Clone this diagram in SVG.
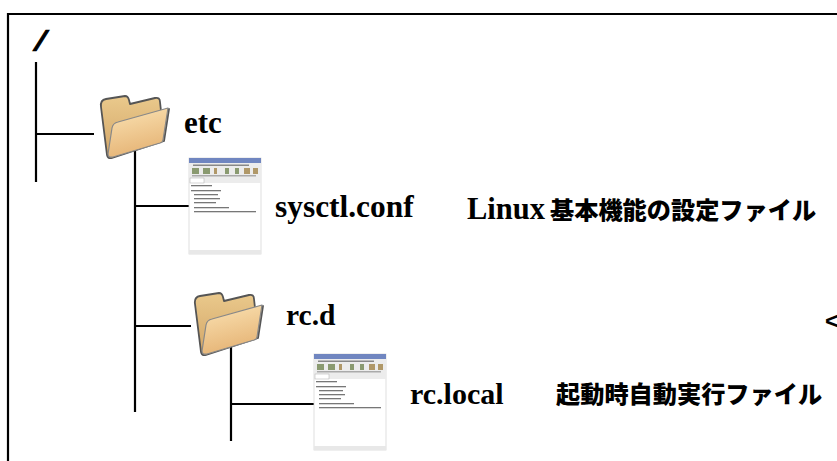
<svg xmlns="http://www.w3.org/2000/svg" xmlns:xlink="http://www.w3.org/1999/xlink" width="837" height="461" viewBox="0 0 837 461">
<style>
.l{stroke:#000;stroke-width:2.2;fill:none}
text{font-family:"Liberation Serif","Noto Sans CJK JP",serif;font-weight:bold;fill:#000}
.t{font-size:30.5px}
.c{font-size:24.2px;font-family:"Noto Sans CJK JP",sans-serif;font-weight:900}
</style>
<defs>
<filter id="soft" x="-5%" y="-5%" width="110%" height="110%"><feGaussianBlur stdDeviation="0.45"/></filter>
<linearGradient id="fb" x1="0" y1="0" x2="0" y2="1"><stop offset="0" stop-color="#eac98c"/><stop offset="1" stop-color="#d2a566"/></linearGradient>
<linearGradient id="ff" x1="0" y1="0" x2="0.3" y2="1"><stop offset="0" stop-color="#fbe3b4"/><stop offset="1" stop-color="#e6b577"/></linearGradient>
<g id="folder">
<path d="M1 10 Q0 3 6 2 L25 -1 Q28 -1 29 3 L30 7 L55 1 Q60 0 60 5 L61 14 L69 12 L64 44 L12 61 Q8 62 7 58 Z" fill="url(#fb)" stroke="#555" stroke-width="1.8" stroke-linejoin="round"/>
<path d="M12 31 Q13 26 18 25 L68 11 L63 43 Q63 45 60 46 L13 60 Q8 61 8 57 Z" fill="url(#ff)" stroke="#888" stroke-width="1.2" stroke-linejoin="round"/>
</g>
<g id="win">
<rect x="0" y="0" width="72" height="96" fill="#fff" stroke="#d8d8d8" stroke-width="0.8"/>
<rect x="0" y="0" width="72" height="5" fill="#6f86c0"/>
<rect x="0" y="5" width="72" height="20" fill="#ececec"/>
<path d="M4 6.500h56v1.500h-56z" fill="#888"/>
<path d="M3 10h7v6h-7zM14 10h7v6h-7zM36 10h4v6h-4zM46 10h4v6h-4z" fill="#8a9a70"/>
<path d="M25 10h3v6h-3zM55 10h6v6h-6zM64 10h5v6h-5z" fill="#b09868"/>
<rect x="3" y="17" width="64" height="1.500" fill="#aaa"/>
<rect x="1" y="20" width="14" height="5" fill="#fff" stroke="#aaa" stroke-width="0.5"/>
<g fill="#777">
<rect x="2" y="27" width="21" height="1.300"/><rect x="2" y="32" width="30" height="1.300"/>
<rect x="5" y="36" width="24" height="1.300"/><rect x="5" y="40" width="26" height="1.300"/>
<rect x="5" y="44" width="22" height="1.300"/><rect x="5" y="49" width="35" height="1.300"/>
<rect x="5" y="53" width="62" height="1.300"/>
</g>
<rect x="0" y="92" width="72" height="4" fill="#e8e8e8"/>
</g>
</defs>
<rect width="837" height="461" fill="#fff"/>
<path d="M8 461V14H837" fill="none" stroke="#000" stroke-width="2.2"/>
<g id="connectors">
<path class="l" d="M36 62V182M36 134H94M135 148V412M135 206H189M135 326H191M231 345V441M231 404H314"/>
</g>
<g id="root"><text transform="translate(33 50) skewX(-24)" style="font-family:'Liberation Sans',sans-serif;font-size:27px" stroke="#000" stroke-width="1.2">/</text></g>
<g id="etc"><use xlink:href="#folder" href="#folder" x="100" y="97" filter="url(#soft)"/><text class="t" x="184" y="133" style="font-size:31px">etc</text></g>
<g id="sysctl"><use xlink:href="#win" href="#win" x="189" y="158" filter="url(#soft)"/><text class="t" x="275" y="217" style="font-size:31.400px">sysctl.conf</text><text class="t" x="467" y="219">Linux</text><text class="c" x="550" y="219">基本機能の設定ファイル</text></g>
<g id="rcd"><use xlink:href="#folder" href="#folder" x="194" y="294" filter="url(#soft)"/><text class="t" x="286" y="325" style="font-size:29.500px">rc.d</text></g>
<g id="rclocal"><use xlink:href="#win" href="#win" x="314" y="354" filter="url(#soft)"/><text class="t" x="410" y="404" style="font-size:30px">rc.local</text><text class="c" x="556" y="403">起動時自動実行ファイル</text></g>
<g id="mark"><text x="825" y="329" style="font-family:'Liberation Sans',sans-serif;font-size:24px">&lt;</text></g>
</svg>
